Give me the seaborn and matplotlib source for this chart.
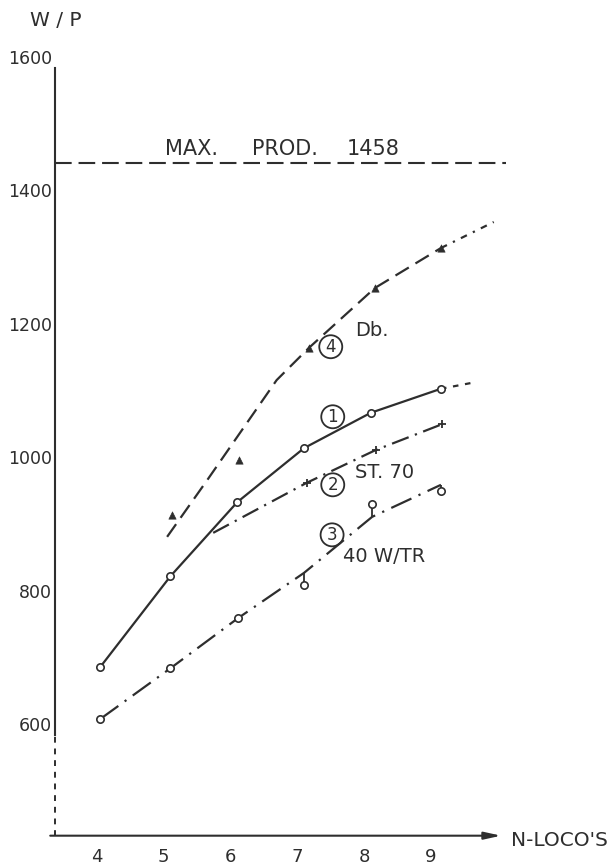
import matplotlib
matplotlib.use('Agg')
import matplotlib.pyplot as plt
import seaborn as sns

# Curve 1 - solid line with open circles
c1_x = [4.05, 5.1, 6.1, 7.1, 8.1, 9.15]
c1_y = [702, 838, 949, 1030, 1083, 1119]
c1_ext_x = [9.15, 9.62]
c1_ext_y = [1119, 1128]

# Curve 2 - ST. 70 (dash-dot, small crosses)
c2_x = [5.74, 7.14, 8.17, 9.17]
c2_y = [903, 978, 1027, 1066]
c2_mark_x = [7.14, 8.17, 9.17]
c2_mark_y = [978, 1027, 1066]

# Curve 3 - 40 W/TR (dash-dot, circles, some off the line)
c3_x = [4.05, 5.1, 6.11, 7.1, 8.12, 9.15]
c3_y = [624, 700, 775, 843, 927, 975]
c3_pt_y = [624, 700, 775, 825, 946, 966]

# Curve 4 - Db. (dashed, triangles)
c4_x = [5.05, 5.65, 6.69, 7.17, 8.16, 9.15]
c4_y = [897, 982, 1132, 1180, 1270, 1330]
c4_ext_x = [9.15, 9.94]
c4_ext_y = [1330, 1369]
c4_mark_x = [7.17, 8.16, 9.15]
c4_mark_y = [1180, 1270, 1330]
c4_off_x = [5.12, 6.13]
c4_off_y = [930, 1012]

max_prod = 1458
x_ticks = [4, 5, 6, 7, 8, 9]
y_ticks = [600, 800, 1000, 1200, 1400, 1600]

ink = '#2e2e2e'

sns.set_style('white')
plt.rcParams['font.family'] = ['DejaVu Sans']

fig = plt.figure(figsize=(6.14, 8.66), dpi=100)
ax = fig.add_axes([0.0818, 0.035, 0.7506, 0.902])
ax.set_xlim(3.3, 10.2)
ax.set_ylim(449, 1620)

# curves
sns.lineplot(x=c1_x, y=c1_y, ax=ax, color=ink, lw=1.6)
sns.lineplot(x=c1_ext_x, y=c1_ext_y, ax=ax, color=ink, lw=1.6, linestyle=(0, (2.5, 3)))
sns.scatterplot(x=c1_x, y=c1_y, ax=ax, marker='o', s=28, facecolor='white',
                edgecolor=ink, linewidth=1.2, zorder=5)

sns.lineplot(x=c2_x, y=c2_y, ax=ax, color=ink, lw=1.6, linestyle=(0, (8, 3, 1, 3)))
sns.scatterplot(x=c2_mark_x, y=c2_mark_y, ax=ax, marker='+', s=30, color=ink,
                linewidth=1.3, zorder=5)

sns.lineplot(x=c3_x, y=c3_y, ax=ax, color=ink, lw=1.6, linestyle=(0, (10, 3.5, 1, 3.5)))
ax.vlines(c3_x[3:], c3_y[3:], c3_pt_y[3:], color=ink, lw=1.3)
sns.scatterplot(x=c3_x, y=c3_pt_y, ax=ax, marker='o', s=28, facecolor='white',
                edgecolor=ink, linewidth=1.2, zorder=5)

sns.lineplot(x=c4_x, y=c4_y, ax=ax, color=ink, lw=1.6, linestyle=(0, (7, 3.5)))
sns.lineplot(x=c4_ext_x, y=c4_ext_y, ax=ax, color=ink, lw=1.6, linestyle=(0, (3, 3, 1, 3)))
sns.scatterplot(x=c4_mark_x + c4_off_x, y=c4_mark_y + c4_off_y, ax=ax, marker='^',
                s=28, color=ink, edgecolor=ink, zorder=5)

# max production line
ax.axhline(max_prod, xmin=0.01, xmax=0.99, color=ink, lw=1.5, linestyle=(0, (8, 3.3)))
ax.text(5.02, 1470, 'MAX.', fontsize=15, color=ink, va='baseline')
ax.text(6.32, 1470, 'PROD.', fontsize=15, color=ink, va='baseline')
ax.text(7.74, 1470, '1458', fontsize=15, color=ink, va='baseline')

# curve labels
circ = dict(boxstyle='circle,pad=0.15', fc='none', ec=ink, lw=1.3)
for lx, ly, num in [(7.53, 1077, '1'), (7.53, 975, '2'), (7.52, 900, '3'), (7.5, 1182, '4')]:
    ax.text(lx, ly, num, fontsize=12, color=ink, ha='center', va='center', bbox=circ)
ax.text(7.86, 1207, 'Db.', fontsize=14, color=ink, va='center')
ax.text(7.86, 994, 'ST. 70', fontsize=14, color=ink, va='center')
ax.text(7.68, 867, '40 W/TR', fontsize=14, color=ink, va='center')

# axes
for side in ['top', 'right', 'bottom']:
    ax.spines[side].set_visible(False)
ax.spines['left'].set_position(('data', 3.37))
ax.spines['left'].set_bounds(600, 1600)
ax.spines['left'].set_color(ink)
ax.spines['left'].set_linewidth(1.5)
ax.vlines(3.37, 449, 600, color=ink, lw=1.4, linestyle=(0, (3, 3)))
ax.annotate('', xy=(10.05, 449), xytext=(3.3, 449), xycoords='data',
            arrowprops=dict(arrowstyle='-|>,head_length=1.0,head_width=0.22',
                            color=ink, lw=1.5, shrinkA=0, shrinkB=0), annotation_clip=False)

ax.set_xticks(x_ticks)
ax.set_yticks(y_ticks)
ax.tick_params(axis='both', direction='in', length=6, width=1.4, color=ink,
               labelcolor=ink)
ax.tick_params(axis='x', pad=9, labelsize=13)
ax.tick_params(axis='y', pad=2, labelsize=12.5)
for lbl in ax.get_yticklabels():
    lbl.set_va('bottom')
ax.set_xlabel('')
ax.set_ylabel('')

fig.text(30 / 614, 1 - 20 / 866, 'W / P', fontsize=14.5, color=ink, va='center')
fig.text(511 / 614, 1 - 840 / 866, "N-LOCO'S", fontsize=14.5, color=ink, va='center')

fig.savefig('out.png', dpi=100, facecolor='white')
